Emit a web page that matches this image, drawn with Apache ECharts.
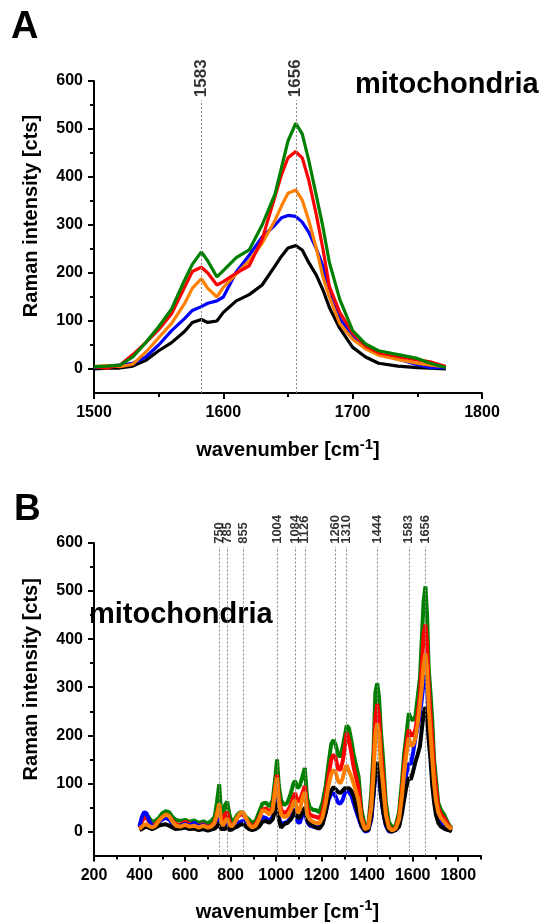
<!DOCTYPE html>
<html>
<head>
<meta charset="utf-8">
<script src="https://cdn.jsdelivr.net/npm/echarts@6.0.0/dist/echarts.min.js"></script>
<style>
  html, body { margin: 0; padding: 0; background: #fff; }
  #main { width: 542px; height: 923px; }
</style>
</head>
<body>
<div id="main"></div>
<script>
// ---- panel A: 1500-1800 cm-1 ----
const xA = [1500,1510,1520,1530,1540,1550,1560,1570,1576,1583,1588,1595,1600,1610,1620,1630,1640,1645,1650,1656,1661,1666,1672,1677,1682,1690,1700,1710,1720,1735,1750,1760,1772];
const greenA  = [5,6,8,25,55,88,125,185,218,244,225,192,205,232,248,300,365,420,475,512,490,435,360,296,222,145,80,52,38,30,22,12,3];
const redA    = [5,2,8,30,55,82,115,170,203,212,200,175,182,200,215,270,360,405,440,453,440,394,320,250,172,118,75,48,34,26,19,15,5];
const orangeA = [5,7,5,10,35,65,95,136,168,188,168,150,170,198,225,262,310,340,366,373,352,310,250,192,150,95,62,42,29,20,12,8,5];
const blueA   = [3,6,8,12,25,50,80,105,122,130,137,142,150,202,237,275,300,315,320,318,306,285,250,215,165,105,68,45,33,21,9,3,3];
const blackA  = [0,2,2,6,18,38,55,78,97,103,97,100,118,142,155,175,215,235,252,257,248,222,195,165,128,85,45,25,12,6,3,2,0];
const peaksA = [1583, 1656];

// ---- panel B: full range ----
const xB = [400,410,420,430,440,455,470,485,500,515,530,545,560,580,600,620,640,660,680,700,715,730,740,750,758,766,775,785,795,805,818,830,842,855,868,880,895,910,925,940,955,970,985,996,1004,1012,1022,1035,1050,1065,1076,1084,1094,1104,1116,1126,1136,1148,1162,1176,1190,1204,1218,1230,1242,1252,1262,1272,1282,1292,1302,1310,1320,1330,1340,1350,1362,1375,1390,1405,1418,1428,1436,1444,1452,1460,1470,1482,1495,1510,1525,1540,1552,1562,1572,1583,1592,1602,1612,1622,1632,1640,1648,1656,1663,1670,1678,1686,1694,1702,1712,1724,1738,1752,1764,1772];
const greenB = [12,25,33,36,30,20,22,28,38,42, 40,30,24,22,24,20,23,18,21,17, 22,30,60,98,40,25,55,62,35,20, 25,35,40,38,30,25,18,22,40,58,
  60,52,65,110,150,95,65,55,60,80, 100,105,90,95,115,132,70,50,45,44, 40,60,95,140,182,190,180,160,155,175, 200,220,215,190,162,140,115,45,12,12,
  80,170,290,308,280,210,150,60,20,8, 12,40,100,160,200,246,235,231,240,280, 320,400,480,510,450,340,290,230,150,110, 60,45,35,20,10,8];
const redB = [8,20,28,30,22,12,15,22,30,35, 32,22,15,14,20,16,14,12,15,10, 12,20,38,55,25,15,35,40,20,10, 15,30,35,36,25,18,10,15,28,45,
  48,40,50,90,118,70,45,38,42,55, 72,80,62,65,80,95,50,35,32,30, 28,40,75,115,150,160,152,130,128,145, 175,205,190,165,135,115,90,30,8,8,
  60,140,235,265,240,170,115,40,10,3, 8,30,80,135,180,212,200,200,212,245, 285,345,410,430,390,300,245,190,125,90, 50,35,28,16,8,5];
const orangeB = [5,10,14,15,12,8,12,22,30,35, 32,20,12,10,14,10,12,8,12,8, 10,18,35,58,22,12,20,27,15,10, 18,30,38,40,28,15,8,12,25,44,
  42,35,45,85,112,60,35,30,32,45, 60,65,38,45,70,82,35,25,20,18, 17,30,60,95,120,128,122,105,100,110, 130,138,125,115,100,85,65,25,5,8,
  50,120,200,225,205,140,95,35,8,2, 6,25,70,120,160,195,178,180,195,225, 265,300,350,370,340,260,205,150,100,65, 40,28,20,12,7,5];
const blueB = [10,30,40,38,25,10,12,20,25,28, 25,15,10,12,16,12,18,10,14,8, 10,12,20,30,12,5,10,15,5,8, 12,15,20,22,15,10,5,8,15,30,
  28,22,30,55,70,30,15,18,20,30, 40,48,20,18,35,45,20,12,10,8, 10,18,40,65,78,80,72,60,58,65, 80,85,82,75,60,45,28,10,0,2,
  25,75,115,130,115,75,40,12,0,0, 3,12,45,85,120,142,140,165,195,217, 245,275,310,325,300,240,175,115,75,45, 32,22,14,8,4,3];
const blackB = [3,5,8,10,8,5,8,12,14,15, 12,8,5,6,8,5,6,3,5,2, 4,6,10,18,5,2,5,10,3,4, 8,10,14,15,10,5,3,5,10,20,
  22,18,25,45,60,25,8,15,18,25, 35,45,30,28,40,50,25,15,12,8, 6,15,40,70,85,92,88,82,80,85, 90,92,90,85,75,55,35,12,2,3,
  30,80,125,145,125,80,42,15,2,0, 3,10,35,65,92,112,108,125,145,160, 178,212,245,259,240,190,150,95,60,35, 18,10,6,3,2,0];
const peaksB = [750, 785, 855, 1004, 1084, 1126, 1260, 1310, 1444, 1583, 1656];

// tick values
const yMajor = [0, 100, 200, 300, 400, 500, 600];
const yMinor = [50, 150, 250, 350, 450, 550];
const xMajorB = [200, 400, 600, 800, 1000, 1200, 1400, 1600, 1800];
const xMinorB = [300, 500, 700, 900, 1100, 1300, 1500, 1700, 1900];

const FONT = 'Liberation Sans, Arial, sans-serif';
const C = { black: '#000000', blue: '#0000ff', red: '#ff0000', orange: '#ff8000', green: '#008000' };

function pairs(xs, ys) {
  return xs.map((x, i) => [x, ys[i]]);
}

const tickLabel = { fontSize: 16, fontWeight: 'bold', color: '#000', fontFamily: FONT };
const xName = '{t|wavenumber [cm}{s|-1}{t|]}';
const xNameStyle = {
  rich: {
    t: { fontSize: 20, fontWeight: 'bold', color: '#000', fontFamily: FONT },
    s: { fontSize: 15, fontWeight: 'bold', color: '#000', fontFamily: FONT, padding: [0, 0, 12, 0] }
  }
};
const yName = 'Raman intensity [cts]';

function lineSeries(name, xs, ys, color, width, xi, yi) {
  return {
    type: 'line', name: name, xAxisIndex: xi, yAxisIndex: yi,
    data: pairs(xs, ys), showSymbol: false, symbol: 'none',
    lineStyle: { color: color, width: width }, itemStyle: { color: color },
    silent: true, animation: false
  };
}

function peakSeries(peaks, top, bottom, xi, yi, fontSize) {
  return {
    type: 'scatter', xAxisIndex: xi, yAxisIndex: yi,
    data: peaks.map(p => [p, top]),
    symbolSize: 2, itemStyle: { color: 'rgba(0,0,0,0)' },
    clip: false, silent: true, animation: false, z: 5,
    label: {
      show: true, position: 'top', distance: 2, rotate: 90,
      align: 'left', verticalAlign: 'middle',
      formatter: p => String(p.value[0]),
      fontSize: fontSize, fontWeight: 'bold', color: '#000', fontFamily: FONT
    },
    markLine: {
      silent: true, symbol: ['none', 'none'], animation: false,
      label: { show: false },
      lineStyle: { color: '#888', width: 1, type: [2, 2] },
      data: peaks.map(p => [{ coord: [p, bottom] }, { coord: [p, top] }])
    }
  };
}

function yMain(gi, padTop) {
  return {
    gridIndex: gi, type: 'value', min: -50, max: 600, interval: 50, position: 'left',
    axisLine: { show: true, onZero: false, lineStyle: { color: '#000', width: 2 } },
    axisTick: { show: true, length: 6, customValues: yMajor, lineStyle: { width: 2 } },
    axisLabel: Object.assign({ margin: 11, customValues: yMajor,
      formatter: v => (v >= 0 && v % 100 === 0) ? String(v) : '' }, tickLabel),
    splitLine: { show: false },
    name: yName, nameLocation: 'middle', nameGap: 53,
    nameTextStyle: { fontSize: 20, fontWeight: 'bold', color: '#000', fontFamily: FONT, padding: [0, 0, 0, padTop] }
  };
}
function yMinorAxis(gi) {
  return {
    gridIndex: gi, type: 'value', min: -50, max: 600, interval: 50, position: 'left',
    axisLine: { show: false, onZero: false },
    axisTick: { show: true, length: 4, customValues: yMinor, lineStyle: { color: '#000', width: 2 } },
    axisLabel: { show: false }, splitLine: { show: false }
  };
}

const option = {
  backgroundColor: '#fff',
  animation: false,
  grid: [
    { left: 94, top: 81, width: 388, height: 312 },
    { left: 94, top: 543, width: 387, height: 313 }
  ],
  xAxis: [
    {
      gridIndex: 0, type: 'value', position: 'bottom', min: 1500, max: 1800, interval: 100,
      axisLine: { onZero: false, lineStyle: { color: '#000', width: 2 } },
      axisTick: { length: 6, lineStyle: { width: 2 } },
      minorTick: { show: true, splitNumber: 2, length: 4, lineStyle: { color: '#000', width: 2 } },
      splitLine: { show: false }, minorSplitLine: { show: false },
      axisLabel: Object.assign({ margin: 12, formatter: v => String(v) }, tickLabel),
      name: xName, nameLocation: 'middle', nameGap: 44, nameTextStyle: xNameStyle
    },
    {
      gridIndex: 1, type: 'value', position: 'bottom', min: 200, max: 1900, interval: 100,
      axisLine: { onZero: false, lineStyle: { color: '#000', width: 2 } },
      axisTick: { length: 6, customValues: xMajorB, lineStyle: { width: 2 } },
      splitLine: { show: false },
      axisLabel: Object.assign({ margin: 12, customValues: xMajorB,
        formatter: v => (v % 200 === 0 && v <= 1800) ? String(v) : '' }, tickLabel),
      name: xName, nameLocation: 'middle', nameGap: 43, nameTextStyle: xNameStyle
    },
    {
      gridIndex: 1, type: 'value', position: 'bottom', min: 200, max: 1900, interval: 100,
      axisLine: { show: false, onZero: false },
      axisTick: { show: true, length: 4, customValues: xMinorB, lineStyle: { color: '#000', width: 2 } },
      axisLabel: { show: false }, splitLine: { show: false }
    }
  ],
  yAxis: [yMain(0, 42), yMinorAxis(0), yMain(1, 40), yMinorAxis(1)],
  graphic: [
    { type: 'text', left: 11, top: 9, style: { text: 'A', font: 'bold 38px ' + FONT, fill: '#000' } },
    { type: 'text', left: 355, top: 70, style: { text: 'mitochondria', font: 'bold 29px ' + FONT, fill: '#000' } },
    { type: 'text', left: 14, top: 491, style: { text: 'B', font: 'bold 37px ' + FONT, fill: '#000' } },
    { type: 'text', left: 89, top: 600, style: { text: 'mitochondria', font: 'bold 29px ' + FONT, fill: '#000' } }
  ],
  series: [
    lineSeries('black', xA, blackA, C.black, 3.2, 0, 0),
    lineSeries('blue', xA, blueA, C.blue, 3.2, 0, 0),
    lineSeries('orange', xA, orangeA, C.orange, 3.2, 0, 0),
    lineSeries('red', xA, redA, C.red, 3.2, 0, 0),
    lineSeries('green', xA, greenA, C.green, 3.2, 0, 0),
    peakSeries(peaksA, 560, -50, 0, 0, 17),

    lineSeries('green', xB, greenB, C.green, 4, 1, 2),
    lineSeries('red', xB, redB, C.red, 4, 1, 2),
    lineSeries('blue', xB, blueB, C.blue, 4, 1, 2),
    lineSeries('black', xB, blackB, C.black, 4, 1, 2),
    lineSeries('orange', xB, orangeB, C.orange, 4, 1, 2),
    peakSeries(peaksB, 592, -50, 1, 2, 13)
  ]
};

const chart = echarts.init(document.getElementById('main'), null, { renderer: 'canvas' });
chart.setOption(option);
</script>
</body>
</html>
